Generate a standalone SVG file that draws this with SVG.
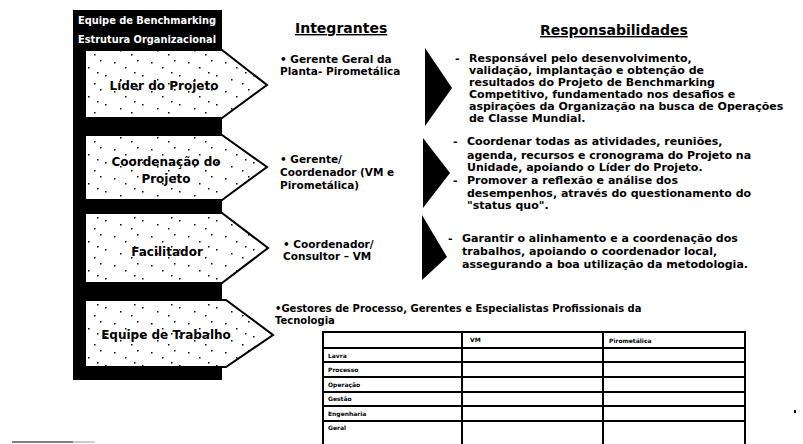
<svg xmlns="http://www.w3.org/2000/svg" width="803" height="444" viewBox="0 0 803 444">
<style>
  text { font-family: "DejaVu Sans", "Liberation Sans", sans-serif; font-weight: bold; fill: #000; }
  .hdr { font-size: 14px; text-decoration: underline; }
  .node { fill: url(#speck); stroke: #000; stroke-width: 2; }
  .lbl { font-size: 12px; text-anchor: middle; }
  .band { fill: #000; }
  .tri { fill: #000; }
  .t10 { font-size: 11px; }
  .t9 { font-size: 10.5px; }
  .t95 { font-size: 10px; }
  .cell { font-size: 6px; }
  .grid { stroke: #000; stroke-width: 2; fill: none; }
  .white { fill: #fff; font-size: 10px; }
</style>
<defs>
  <pattern id="speck" width="37" height="29" patternUnits="userSpaceOnUse">
    <rect width="37" height="29" fill="#fff"/>
    <rect x="3" y="4" width="1.5" height="1.5" fill="#000"/>
    <rect x="14" y="9" width="1.5" height="1.5" fill="#000"/>
    <rect x="26" y="2" width="1.5" height="1.5" fill="#000"/>
    <rect x="31" y="17" width="1.5" height="1.5" fill="#000"/>
    <rect x="9" y="21" width="1.5" height="1.5" fill="#000"/>
    <rect x="20" y="25" width="1.5" height="1.5" fill="#000"/>
    <rect x="23" y="14" width="1.5" height="1.5" fill="#000"/>
  </pattern>
</defs>
<rect width="803" height="444" fill="#fff"/>

<g id="frame">
  <rect class="band" x="73" y="10" width="12" height="370"/>
  <rect class="band" x="73" y="10" width="149" height="40"/>
  <text class="white" x="78" y="24" textLength="138" lengthAdjust="spacingAndGlyphs">Equipe de Benchmarking</text>
  <text class="white" x="78" y="43" textLength="138" lengthAdjust="spacingAndGlyphs">Estrutura Organizacional</text>
  <rect class="band" x="73" y="118" width="149" height="17"/>
  <rect class="band" x="73" y="200" width="149" height="13"/>
  <rect class="band" x="73" y="283" width="149" height="17"/>
  <rect class="band" x="73" y="367" width="149" height="13"/>
</g>

<g id="node-lider">
  <polygon class="node" points="85,50 222,50 267,85 222,118 85,118"/>
  <text class="lbl" x="164" y="90">Líder do Projeto</text>
</g>
<g id="node-coordenacao">
  <polygon class="node" points="85,135 222,135 267,167 222,200 85,200"/>
  <text class="lbl" x="166" y="166">Coordenação do</text>
  <text class="lbl" x="166" y="183">Projeto</text>
</g>
<g id="node-facilitador">
  <polygon class="node" points="85,213 222,213 268,248 222,283 85,283"/>
  <text class="lbl" x="167" y="256">Facilitador</text>
</g>
<g id="node-equipe">
  <polygon class="node" points="85,300 226,300 273,335 226,367 85,367"/>
  <text class="lbl" x="166" y="339">Equipe de Trabalho</text>
</g>

<g id="headers">
  <text class="hdr" x="295" y="33">Integrantes</text>
  <text class="hdr" x="540" y="35">Responsabilidades</text>
</g>

<g id="integrantes">
  <text class="t9" x="280" y="63">• Gerente Geral da</text>
  <text class="t9" x="280" y="75">Planta- Pirometálica</text>
  <text class="t9" x="280" y="163">• Gerente/</text>
  <text class="t9" x="280" y="176">Coordenador (VM e</text>
  <text class="t9" x="280" y="189">Pirometálica)</text>
  <text class="t9" x="283" y="248">• Coordenador/</text>
  <text class="t9" x="283" y="260">Consultor – VM</text>
</g>

<g id="connectors">
  <polygon class="tri" points="425,48 452,88 425,126"/>
  <polygon class="tri" points="423,138 450,173 423,208"/>
  <polygon class="tri" points="422,215 447,257 422,280"/>
</g>

<g id="responsabilidades">
  <text class="t10" x="455" y="62">-</text>
  <text class="t10" x="469" y="62">Responsável pelo desenvolvimento,</text>
  <text class="t10" x="469" y="74">validação, implantação e obtenção de</text>
  <text class="t10" x="469" y="86">resultados do Projeto de Benchmarking</text>
  <text class="t10" x="469" y="98">Competitivo, fundamentado nos desafios e</text>
  <text class="t10" x="469" y="110">aspirações da Organização na busca de Operações</text>
  <text class="t10" x="469" y="122">de Classe Mundial.</text>

  <text class="t10" x="453" y="145">-</text>
  <text class="t10" x="467" y="145">Coordenar todas as atividades, reuniões,</text>
  <text class="t10" x="467" y="159">agenda, recursos e cronograma do Projeto na</text>
  <text class="t10" x="467" y="171">Unidade, apoiando o Líder do Projeto.</text>
  <text class="t10" x="453" y="184">-</text>
  <text class="t10" x="467" y="184">Promover a reflexão e análise dos</text>
  <text class="t10" x="467" y="197">desempenhos, através do questionamento do</text>
  <text class="t10" x="467" y="209">"status quo".</text>

  <text class="t10" x="448" y="242">-</text>
  <text class="t10" x="462" y="242">Garantir o alinhamento e a coordenação dos</text>
  <text class="t10" x="462" y="255">trabalhos, apoiando o coordenador local,</text>
  <text class="t10" x="462" y="268">assegurando a boa utilização da metodologia.</text>
</g>

<g id="equipe-texto">
  <text class="t95" x="275" y="312">•Gestores de Processo, Gerentes e Especialistas Profissionais da</text>
  <text class="t95" x="275" y="324">Tecnologia</text>
</g>

<g id="tabela">
  <rect class="grid" x="323" y="332" width="422" height="120"/>
  <line class="grid" x1="462" y1="332" x2="462" y2="444"/>
  <line class="grid" x1="603" y1="332" x2="603" y2="444"/>
  <line class="grid" x1="323" y1="348" x2="745" y2="348"/>
  <line class="grid" x1="323" y1="362" x2="745" y2="362"/>
  <line class="grid" x1="323" y1="377" x2="745" y2="377"/>
  <line class="grid" x1="323" y1="392" x2="745" y2="392"/>
  <line class="grid" x1="323" y1="406" x2="745" y2="406"/>
  <line class="grid" x1="323" y1="421" x2="745" y2="421"/>
  <text class="cell" x="470" y="342">VM</text>
  <text class="cell" x="609" y="343">Pirometálica</text>
  <text class="cell" x="328" y="358">Lavra</text>
  <text class="cell" x="328" y="372">Processo</text>
  <text class="cell" x="328" y="387">Operação</text>
  <text class="cell" x="328" y="401">Gestão</text>
  <text class="cell" x="328" y="416">Engenharia</text>
  <text class="cell" x="328" y="430">Geral</text>
</g>

<g id="marcas">
  <line x1="12" y1="442" x2="73" y2="442" stroke="#000" stroke-width="1"/>
  <line x1="73" y1="442" x2="95" y2="442" stroke="#999" stroke-width="1"/>
  <rect x="794" y="410" width="2" height="3" fill="#000"/>
</g>
</svg>
